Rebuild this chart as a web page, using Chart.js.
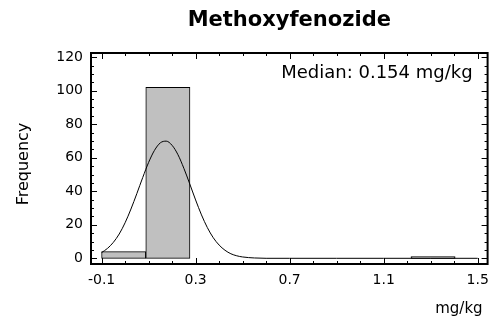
<!DOCTYPE html>
<html>
<head>
<meta charset="utf-8">
<script src="https://cdn.jsdelivr.net/npm/chart.js@4.4.0/dist/chart.umd.min.js"></script>
<style>
  html, body { margin: 0; padding: 0; background: #fff; }
  #wrap { position: relative; width: 497px; height: 322px; }
</style>
</head>
<body>
<div id="wrap"><canvas id="histChart" width="497" height="322"></canvas></div>
<script>
/* ── Data ── */
const chartTitle  = 'Methoxyfenozide';
const medianLabel = 'Median: 0.154 mg/kg';
const xTitle      = 'mg/kg';
const yTitle      = 'Frequency';

// histogram bins (centre of each bin, bin width ~0.188 mg/kg)
const binCenters = [-0.006, 0.182, 0.370, 0.558, 0.746, 0.934, 1.122, 1.310];
const binCounts  = [4, 102, 0, 0, 0, 0, 0, 1];

// fitted curve, read point by point
const curveX = [-0.1, -0.075, -0.05, -0.025, 0, 0.025, 0.05, 0.075, 0.1, 0.125, 0.15, 0.175,
                0.2, 0.225, 0.25, 0.275, 0.3, 0.325, 0.35, 0.375, 0.4, 0.425, 0.45, 0.475,
                0.5, 0.55, 0.6, 0.7, 0.9, 1.1, 1.3, 1.5];
const curveY = [3.4, 5.9, 9.5, 14.5, 21.2, 29.4, 38.6, 48.2, 57.2, 64.4, 68.9, 69.9,
                67.4, 61.8, 53.7, 44.4, 34.8, 25.9, 18.3, 12.3, 7.9, 4.8, 2.7, 1.5,
                0.8, 0.2, 0, 0, 0, 0, 0, 0];

const xTicks = [-0.1, 0.3, 0.7, 1.1, 1.5];
const yTicks = [0, 20, 40, 60, 80, 100, 120];

/* ── Style ── */
const FONT = "'DejaVu Sans', sans-serif";

/* ── Frame, inward ticks and free texts ── */
const framePlugin = {
  id: 'frame',
  afterDatasetsDraw(chart) {
    const { ctx, chartArea: a, scales: { x, y } } = chart;
    ctx.save();
    ctx.strokeStyle = '#000';
    ctx.lineWidth = 1;
    ctx.beginPath();
    // x ticks: minor every 0.1, major every 0.4
    for (let i = 0; i <= 16; i++) {
      const px = Math.round(x.getPixelForValue(xTicks[0] + i * 0.1)) + 0.5;
      const len = i % 4 === 0 ? 6 : 3;
      ctx.moveTo(px, a.bottom); ctx.lineTo(px, a.bottom - len);
      ctx.moveTo(px, a.top);    ctx.lineTo(px, a.top + len);
    }
    // y ticks: minor every 5, major every 20
    for (let i = 0; i <= 24; i++) {
      const py = Math.round(y.getPixelForValue(i * 5)) + 0.5;
      const len = i % 4 === 0 ? 6 : 3;
      ctx.moveTo(a.left, py);  ctx.lineTo(a.left + len, py);
      ctx.moveTo(a.right, py); ctx.lineTo(a.right - len, py);
    }
    ctx.stroke();

    ctx.lineWidth = 2;
    ctx.strokeRect(a.left, a.top, a.right - a.left, a.bottom - a.top);

    ctx.fillStyle = '#000';
    ctx.textBaseline = 'alphabetic';

    ctx.font = 'bold 21px ' + FONT;
    ctx.textAlign = 'center';
    ctx.fillText(chartTitle, (a.left + a.right) / 2, 26);

    ctx.font = '18px ' + FONT;
    ctx.textAlign = 'right';
    ctx.fillText(medianLabel, a.right - 15, 78);

    ctx.font = '15px ' + FONT;
    ctx.fillText(xTitle, a.right - 5, 313);

    ctx.save();
    ctx.translate(28, 164);
    ctx.rotate(-Math.PI / 2);
    ctx.font = '16px ' + FONT;
    ctx.textAlign = 'center';
    ctx.fillText(yTitle, 0, 0);
    ctx.restore();

    ctx.restore();
  }
};

/* ── Chart ── */
const ctx = document.getElementById('histChart').getContext('2d');

new Chart(ctx, {
  type: 'bar',
  data: {
    datasets: [
      {
        type: 'line',
        data: curveX.map((v, i) => ({ x: v, y: curveY[i] })),
        borderColor: '#000',
        borderWidth: 1,
        pointRadius: 0,
        cubicInterpolationMode: 'monotone',
        fill: false,
        order: 0
      },
      {
        type: 'bar',
        data: binCenters.map((v, i) => ({ x: v, y: binCounts[i] })),
        backgroundColor: '#c0c0c0',
        borderColor: '#000',
        borderWidth: 1,
        borderSkipped: false,
        barPercentage: 1,
        categoryPercentage: 1,
        order: 1
      }
    ]
  },
  options: {
    responsive: false,
    animation: false,
    layout: { padding: { top: 53, right: 6, left: 0, bottom: 0 } },
    plugins: {
      legend: { display: false },
      title: { display: false },
      tooltip: { enabled: false }
    },
    scales: {
      x: {
        type: 'linear',
        offset: false,
        min: -0.145,
        max: 1.542,
        grid: { display: false, drawTicks: false },
        border: { display: false },
        ticks: {
          font: { family: FONT, size: 14 },
          color: '#000',
          padding: 8,
          maxRotation: 0,
          autoSkip: false,
          callback: v => v.toFixed(1)
        },
        afterBuildTicks: s => { s.ticks = xTicks.map(v => ({ value: v })); },
        afterFit: s => { s.height = 58; }
      },
      y: {
        min: -3.4,
        max: 122.5,
        grid: { display: false, drawTicks: false },
        border: { display: false },
        ticks: {
          font: { family: FONT, size: 14 },
          color: '#000',
          padding: 8,
          autoSkip: false,
          callback: v => String(v)
        },
        afterBuildTicks: s => { s.ticks = yTicks.map(v => ({ value: v })); },
        afterFit: s => { s.width = 91; }
      }
    }
  },
  plugins: [framePlugin]
});
</script>
</body>
</html>
